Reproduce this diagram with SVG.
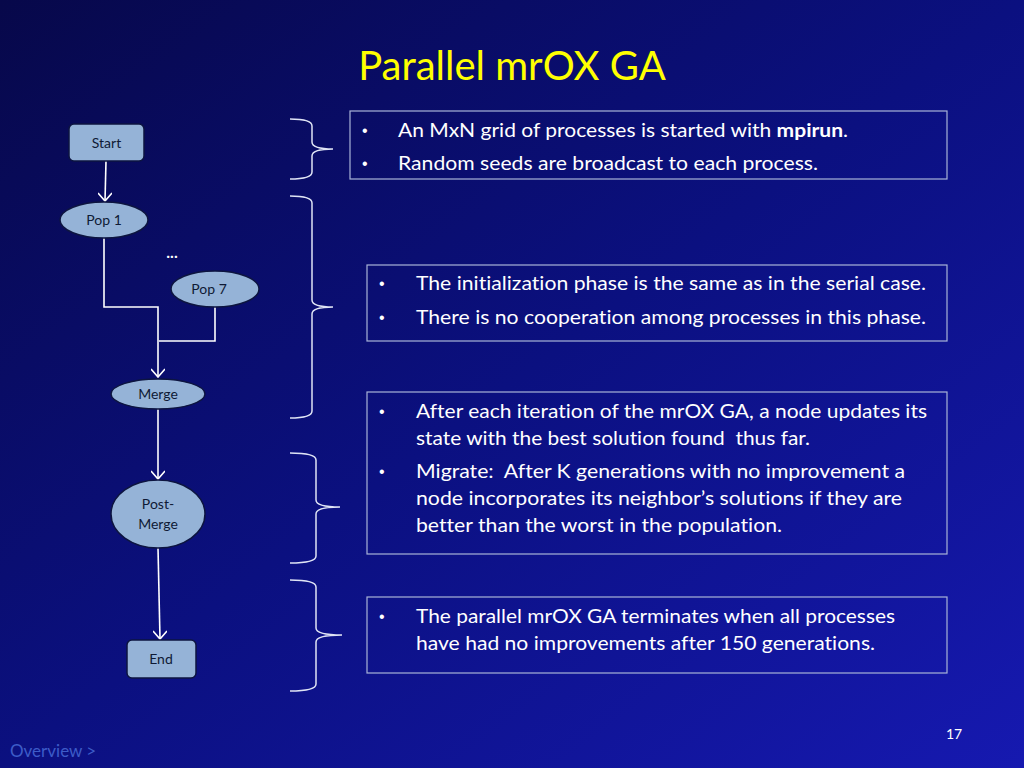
<svg xmlns="http://www.w3.org/2000/svg" width="1024" height="768" viewBox="0 0 1024 768">
<defs>
<linearGradient id="bg" x1="0" y1="0" x2="1" y2="1">
<stop offset="0" stop-color="#07084a"/>
<stop offset="0.5" stop-color="#0b1080"/>
<stop offset="1" stop-color="#1619b0"/>
</linearGradient>
<marker id="arrd" viewBox="0 0 14 14" refX="7" refY="13" markerWidth="14" markerHeight="14" markerUnits="userSpaceOnUse">
<path d="M0,5 L7,13 L14,5" fill="none" stroke="#ffffff" stroke-width="1.6"/>
</marker>
</defs>
<style>
text{font-variant-ligatures:none;white-space:pre}
.nd{fill:#95b3d7;stroke:#0d1540;stroke-width:1.5}
.nt{font-family:Lato,"Liberation Sans",sans-serif;font-size:14px;fill:#0f1a35;text-anchor:middle}
.cn{fill:none;stroke:#ffffff;stroke-width:1.6}
.br{fill:none;stroke:#dfe4f5;stroke-width:1.5}
.bx{fill:none;stroke:#a9b4d8;stroke-width:1.2}
.tx{font-family:Lato,"Liberation Sans",sans-serif;font-size:19px;fill:#ffffff}
.bu{font-family:"Liberation Sans",sans-serif;font-size:16px;fill:#ffffff}
</style>
<rect x="0" y="0" width="1024" height="768" fill="url(#bg)"/>
<text x="512" y="80" font-family="Lato,'Liberation Sans',sans-serif" font-size="40" fill="#ffff00" text-anchor="middle">Parallel mrOX GA</text>

<g id="connectors">
<line class="cn" x1="106" y1="161" x2="105" y2="201" marker-end="url(#arrd)"/>
<polyline class="cn" points="104,238 104,307 158,307 158,377" marker-end="url(#arrd)"/>
<polyline class="cn" points="215,307 215,341 159,341"/>
<line class="cn" x1="158" y1="409" x2="158" y2="479" marker-end="url(#arrd)"/>
<line class="cn" x1="158" y1="548" x2="160" y2="639" marker-end="url(#arrd)"/>
</g>

<g id="start"><rect class="nd" x="69" y="124" width="75" height="37" rx="5"/><text class="nt" x="106.5" y="148">Start</text></g>
<g id="pop1"><ellipse class="nd" cx="104" cy="220" rx="44" ry="18"/><text class="nt" x="104" y="225">Pop 1</text></g>
<g id="dots"><text x="172" y="258" font-family="Lato,'Liberation Sans',sans-serif" font-size="16" font-weight="bold" fill="#ffffff" text-anchor="middle">...</text></g>
<g id="pop7"><ellipse class="nd" cx="215" cy="289" rx="44" ry="18"/><text class="nt" x="209" y="294">Pop 7</text></g>
<g id="merge"><ellipse class="nd" cx="158" cy="394" rx="47" ry="15"/><text class="nt" x="158" y="399">Merge</text></g>
<g id="postmerge"><ellipse class="nd" cx="158" cy="514" rx="47" ry="34"/><text class="nt" x="158" y="509">Post-</text><text class="nt" x="158" y="529">Merge</text></g>
<g id="end"><rect class="nd" x="127" y="640" width="69" height="38" rx="5"/><text class="nt" x="161" y="664">End</text></g>

<g id="braces">
<path class="br" d="M290,119 Q312,119 312,126 L312,142 Q312,149 333,149 Q312,149 312,156 L312,172 Q312,179 290,179"/>
<path class="br" d="M290,196 Q312,196 312,203 L312,300 Q312,307 333,307 Q312,307 312,314 L312,411 Q312,418 290,418"/>
<path class="br" d="M290,453 Q316,453 316,460 L316,500 Q316,507 340,507 Q316,507 316,514 L316,556 Q316,563 290,563"/>
<path class="br" d="M290,580 Q316,580 316,587 L316,628 Q316,635 342,635 Q316,635 316,642 L316,684 Q316,691 290,691"/>
</g>

<g id="box1">
<rect class="bx" x="350" y="111" width="597" height="68"/>
<text class="bu" x="362" y="136">•</text>
<text class="tx" x="398" y="137" textLength="450" lengthAdjust="spacingAndGlyphs">An MxN grid of processes is started with <tspan font-weight="bold">mpirun</tspan>.</text>
<text class="bu" x="362" y="169">•</text>
<text class="tx" x="398" y="170" textLength="420" lengthAdjust="spacingAndGlyphs">Random seeds are broadcast to each process.</text>
</g>
<g id="box2">
<rect class="bx" x="367" y="265" width="580" height="76"/>
<text class="bu" x="379" y="289">•</text>
<text class="tx" x="416" y="290" textLength="510" lengthAdjust="spacingAndGlyphs">The initialization phase is the same as in the serial case.</text>
<text class="bu" x="379" y="323">•</text>
<text class="tx" x="416" y="324" textLength="510" lengthAdjust="spacingAndGlyphs">There is no cooperation among processes in this phase.</text>
</g>
<g id="box3">
<rect class="bx" x="367" y="392" width="580" height="162"/>
<text class="bu" x="379" y="417">•</text>
<text class="tx" x="416" y="418" textLength="511" lengthAdjust="spacingAndGlyphs">After each iteration of the mrOX GA, a node updates its</text>
<text class="tx" x="416" y="445" textLength="394" lengthAdjust="spacingAndGlyphs">state with the best solution found  thus far.</text>
<text class="bu" x="379" y="477">•</text>
<text class="tx" x="416" y="478" textLength="489" lengthAdjust="spacingAndGlyphs">Migrate:  After K generations with no improvement a</text>
<text class="tx" x="416" y="505" textLength="486" lengthAdjust="spacingAndGlyphs">node incorporates its neighbor’s solutions if they are</text>
<text class="tx" x="416" y="532" textLength="366" lengthAdjust="spacingAndGlyphs">better than the worst in the population.</text>
</g>
<g id="box4">
<rect class="bx" x="367" y="597" width="580" height="76"/>
<text class="bu" x="379" y="622">•</text>
<text class="tx" x="416" y="623" textLength="479" lengthAdjust="spacingAndGlyphs">The parallel mrOX GA terminates when all processes</text>
<text class="tx" x="416" y="650" textLength="459" lengthAdjust="spacingAndGlyphs">have had no improvements after 150 generations.</text>
</g>

<text x="10" y="757" font-family="Lato,'Liberation Sans',sans-serif" font-size="17" fill="#3d5cc8">Overview &gt;</text>
<text x="954" y="739" font-family="Lato,'Liberation Sans',sans-serif" font-size="14" fill="#ffffff" text-anchor="middle">17</text>
</svg>
